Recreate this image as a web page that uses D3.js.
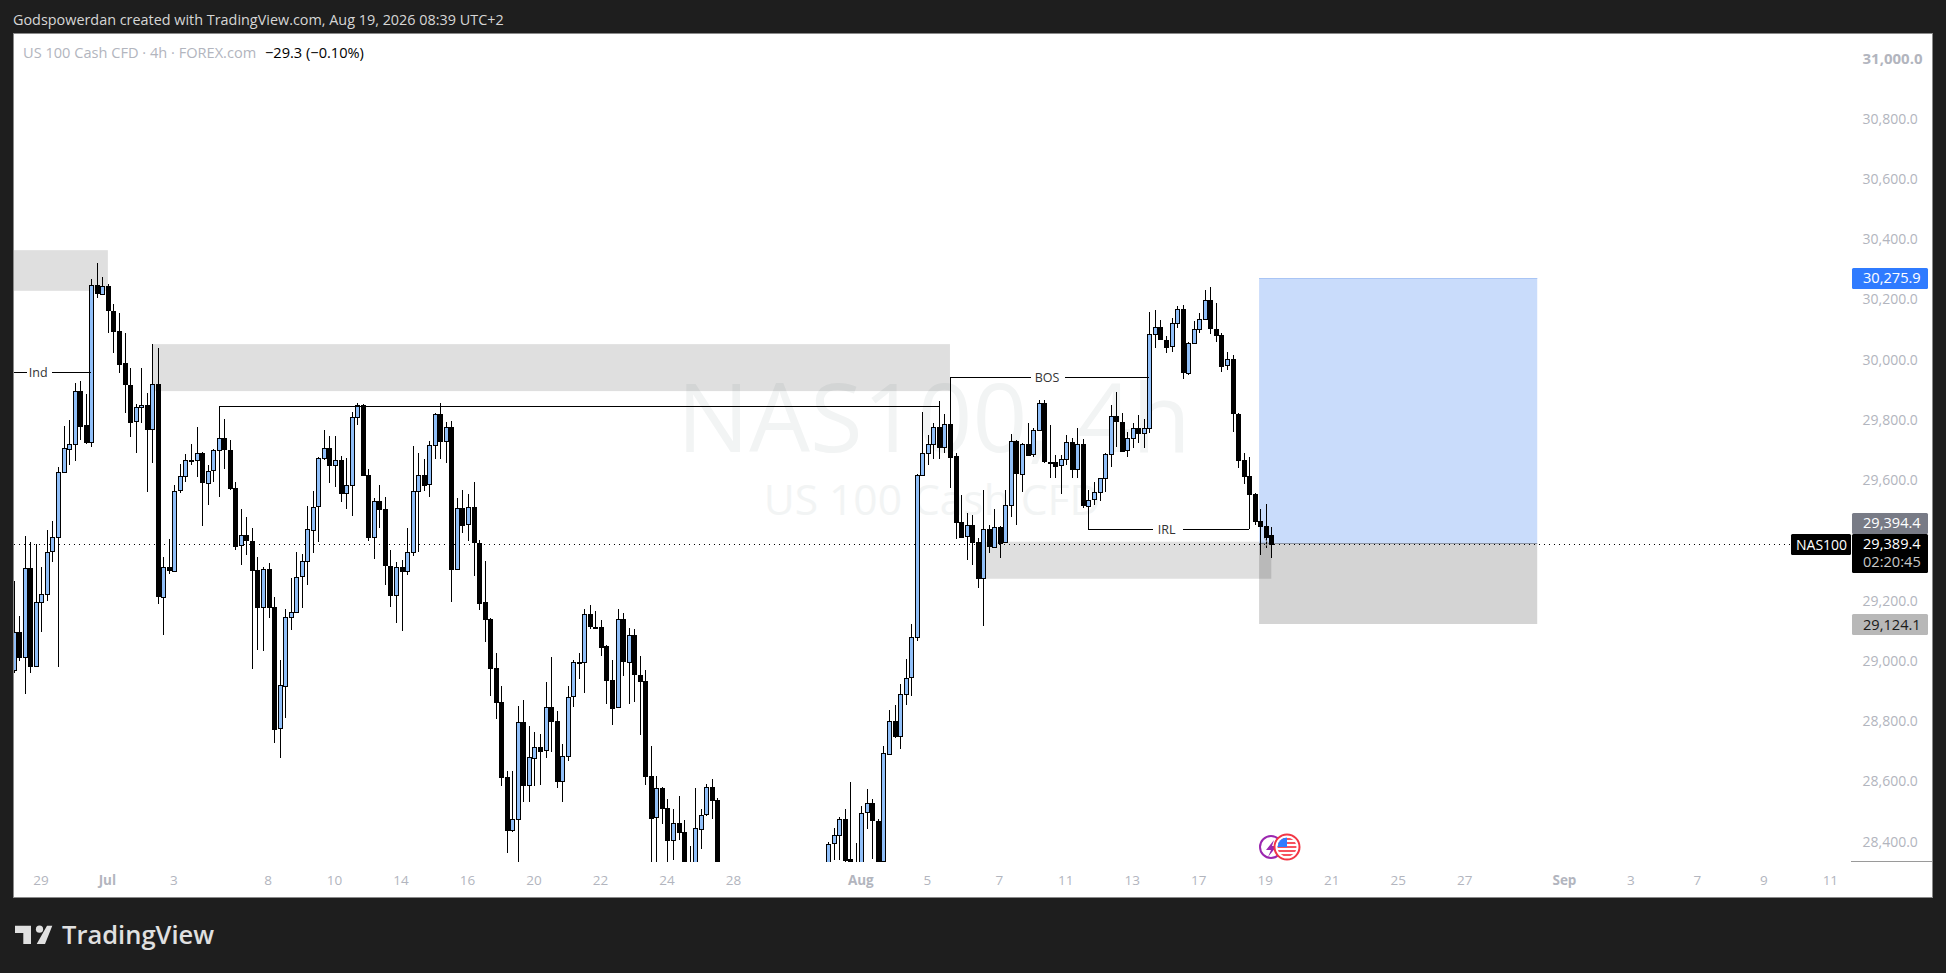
<!DOCTYPE html>
<html><head><meta charset="utf-8">
<script src="https://cdn.jsdelivr.net/npm/d3@7/dist/d3.min.js"></script>
<style>
html,body{margin:0;padding:0;background:#1e1e1e;overflow:hidden}
svg{display:block}
text{font-family:"Open Sans","Noto Sans",sans-serif}
</style></head><body>
<svg id="c" width="1946" height="973"></svg>
<script>
const opens=[28974,29099,29016,29312,28987,29199,29226,29365,29412,29628,
29708,29724,29900,29784,29728,30249,30221,30246,30165,30099,
29990,29919,29796,29844,29851,29770,29920,29215,29313,29302,
29568,29615,29668,29668,29691,29594,29634,29701,29741,29704,
29577,29385,29419,29401,29305,29182,29309,29182,28777,28921,
29149,29165,29282,29333,29439,29514,29675,29708,29650,29668,
29557,29585,29811,29851,29620,29414,29532,29505,29318,29222,
29315,29303,29365,29568,29621,29587,29718,29821,29733,29778,
29308,29509,29454,29512,29395,29197,29142,28979,28866,28617,
28441,28476,28798,28588,28682,28717,28704,28848,28803,28604,
28687,28884,28999,28999,29157,29116,29116,29051,28940,28848,
29140,28999,29087,28956,28936,28621,28482,28579,28514,28409,
28465,28435,28335,28328,28446,28492,28582,28540,28300,28396,
28423,28476,28343,28300,28320,28498,28529,28471,28338,28695,
28804,28754,28894,28947,29080,29618,29691,29721,29778,29711,
29788,29682,29464,29414,29452,29396,29275,29439,29381,29448,
29395,29519,29731,29624,29724,29687,29768,29857,29664,29664,
29650,29671,29728,29638,29721,29517,29538,29562,29608,29688,
29814,29796,29700,29741,29774,29757,29774,30086,30110,30069,
30045,30123,30169,29959,30057,30103,30136,30199,30105,30085,
29983,30003,29823,29670,29617,29557,29468,29451,29418.7];
const closes=[29099,29016,29312,28987,29199,29226,29365,29412,29628,29708,
29724,29900,29784,29727,30249,30221,30246,30165,30099,29990,
29919,29796,29844,29851,29770,29920,29215,29313,29302,29568,
29615,29668,29667,29691,29594,29634,29701,29741,29704,29577,
29385,29419,29401,29305,29182,29309,29182,28777,28921,29149,
29165,29282,29333,29439,29514,29675,29708,29650,29668,29557,
29585,29811,29851,29620,29414,29532,29505,29318,29222,29315,
29303,29365,29568,29621,29587,29718,29821,29733,29778,29308,
29509,29454,29512,29395,29195,29142,28979,28866,28617,28441,
28476,28798,28588,28682,28717,28704,28848,28803,28604,28687,
28884,28997,28995,29157,29116,29115,29049,28938,28847,29140,
28999,29087,28956,28936,28621,28482,28579,28514,28409,28465,
28435,28334,28328,28446,28492,28582,28538,28290,28396,28423,
28476,28341,28300,28320,28498,28529,28471,28338,28695,28804,
28754,28894,28947,29080,29618,29691,29721,29778,29711,29788,
29680,29464,29414,29452,29396,29275,29439,29381,29448,29395,
29519,29731,29624,29724,29687,29768,29857,29664,29663,29650,
29671,29728,29638,29721,29517,29538,29562,29608,29688,29814,
29796,29700,29741,29774,29757,29774,30086,30110,30069,30045,
30123,30169,29959,30057,30103,30136,30199,30105,30085,29982,
30003,29823,29670,29617,29557,29468,29451,29414,29389.4];
const highs=[29268,29151,29417,29398,29390,29313,29437,29466,29645,29782,
29802,29926,29931,29888,30269,30323,30278,30254,30187,30159,
30092,29975,29855,29975,29893,30054,30041,29346,29407,29585,
29656,29689,29722,29779,29695,29652,29705,29847,29807,29735,
29595,29505,29479,29445,29346,29315,29326,29213,29005,29173,
29279,29364,29357,29516,29566,29680,29769,29750,29749,29682,
29675,29827,29859,29855,29639,29542,29586,29547,29372,29329,
29337,29445,29716,29691,29672,29733,29825,29859,29795,29799,
29542,29569,29558,29597,29405,29334,29146,29030,28919,28636,
28636,28852,28872,28786,28767,28761,28931,29015,28835,28725,
28919,29005,29030,29176,29188,29168,29138,29054,29005,29173,
29160,29113,29107,29017,28972,28719,28620,28582,28545,28509,
28553,28474,28387,28579,28509,28595,28610,28547,28400,28446,
28485,28512,28599,28398,28520,28576,28545,28479,28719,28839,
28855,28925,29008,29124,29622,29827,29752,29791,29865,29822,
29944,29691,29553,29494,29486,29409,29569,29453,29505,29450,
29569,29755,29735,29727,29791,29774,29868,29870,29785,29686,
29686,29752,29741,29774,29738,29569,29597,29610,29692,29852,
29894,29824,29761,29791,29819,29804,30161,30167,30134,30081,
30142,30181,30184,30060,30131,30158,30234,30244,30189,30090,
30028,30017,29826,29691,29679,29560,29505,29523,29448];
const lows=[28961,29003,28891,28963,28985,29099,29202,29331,28983,29625,
29652,29667,29735,29722,29713,30208,30217,30092,30026,29959,
29826,29747,29693,29793,29564,29660,29191,29089,29290,29300,
29561,29597,29652,29614,29451,29520,29597,29547,29640,29569,
29370,29321,29354,28976,29038,29036,29145,28730,28681,28813,
29105,29163,29179,29255,29359,29398,29669,29594,29581,29531,
29507,29483,29785,29618,29401,29339,29444,29255,29182,29127,
29102,29287,29351,29365,29567,29547,29672,29673,29658,29199,
29304,29428,29401,29285,29171,29066,28885,28809,28586,28365,
28435,28319,28534,28534,28586,28590,28681,28700,28581,28534,
28671,28850,28941,28896,29108,29112,29019,28859,28789,28846,
28952,28859,28865,28757,28590,28300,28310,28462,28330,28340,
28407,28325,28320,28320,28377,28487,28479,28270,28280,28340,
28340,28330,28280,28290,28310,28443,28345,28335,28332,28690,
28745,28709,28855,28885,29069,29616,29652,29672,29672,29691,
29577,29407,29412,29337,29320,29245,29119,29359,29378,29345,
29393,29481,29453,29564,29685,29680,29766,29660,29608,29610,
29557,29652,29608,29608,29509,29439,29520,29534,29564,29647,
29713,29698,29680,29708,29727,29710,29760,30042,30067,30026,
30029,30109,29937,29951,30055,30092,30134,30086,30061,29962,
29968,29763,29644,29590,29439,29453,29354,29376,29345];
const firstHiddenBar=128, hiddenSlots=19;      // bars below the pane (price under the visible range)
const priceTicks=[31000,30800,30600,30400,30200,30000,29800,29600,29200,29000,28800,28600,28400];
const timeSlots=[5,17,29,46,58,70,82,94,106,118,130,153,165,178,190,202,214,226,238,250,262,280,292,304,316,328];
const timeLabels=["29","Jul","3","8","10","14","16","20","22","24","28","Aug","5","7","11","13","17","19","21","25","27","Sep","3","7","9","11"];
const boldLabels=["Jul","Aug","Sep"];
const lastPrice=29389.4, entry=29394.4, target=30275.9, stop=29124.1;
const zoneStart=[-5,25,175], zoneEnd=[17,169,227], zoneTop=[30366,30054,29398], zoneBottom=[30231,29898,29275];
const boxStart=224.8, boxEnd=275;
const lineLabels=["Ind","BOS","IRL"], lineStart=[-5,169,194], lineEnd=[14,205,223], linePrice=[29960,29944,29439], lineMid=[4.6,186.7,208.3], lineGap=[12.5,17,15];
const swingStart=37, swingEnd=167, swingPrice=29847;

const svg=d3.select("#c");
const UP="#90bff9";
const x=d3.scaleLinear().domain([0,227]).range([13.7,1271.3]);
const y=d3.scaleLinear().domain([28400,31000]).range([842.3,59.2]);
const slot=i=>i<firstHiddenBar?i:i+hiddenSlots;
const bars=opens.map((o,i)=>({s:slot(i),o,c:closes[i],h:highs[i],l:lows[i]}));

// pane
svg.append("rect").attr("x",13.5).attr("y",33.5).attr("width",1919).attr("height",864).attr("fill","#fff").attr("stroke","#8a8a8a");
const defs=svg.append("defs");
defs.append("clipPath").attr("id","pane").append("rect").attr("x",14).attr("y",34).attr("width",1838).attr("height",828);
const pane=svg.append("g").attr("clip-path","url(#pane)");

// watermark
pane.append("text").attr("x",934).attr("y",452).attr("text-anchor","middle").attr("font-size",96).attr("fill","#f2f4f4").text("NAS100, 4h");
pane.append("text").attr("x",932).attr("y",515).attr("text-anchor","middle").attr("font-size",42.5).attr("fill","#f2f4f4").text("US 100 Cash CFD");

// position box
const boxTop=Math.ceil(y(target)), boxMid=Math.round(y(entry)), boxBot=Math.round(y(stop));
pane.append("rect").attr("x",x(boxStart)).attr("width",x(boxEnd)-x(boxStart)).attr("y",boxTop).attr("height",boxMid-boxTop).attr("fill","#c9dcfb");
pane.append("rect").attr("x",x(boxStart)).attr("width",x(boxEnd)-x(boxStart)).attr("y",boxMid).attr("height",boxBot-boxMid).attr("fill","#d4d4d4");
pane.append("line").attr("x1",x(boxStart)).attr("x2",x(boxEnd)).attr("y1",boxMid+.5).attr("y2",boxMid+.5).attr("stroke","#8a93a3");
pane.append("line").attr("x1",x(boxStart)).attr("x2",x(boxEnd)).attr("y1",boxTop+.5).attr("y2",boxTop+.5).attr("stroke","#a9c5f5");

// zones
pane.selectAll("rect.zone").data(zoneStart).join("rect").attr("class","zone")
 .attr("x",(d)=>x(d)).attr("width",(d,i)=>x(zoneEnd[i])-x(d))
 .attr("y",(d,i)=>y(zoneTop[i])).attr("height",(d,i)=>y(zoneBottom[i])-y(zoneTop[i]))
 .attr("fill","rgba(0,0,0,0.125)");

// last price line
pane.append("line").attr("x1",14).attr("x2",1791).attr("y1",Math.round(y(lastPrice))+.5).attr("y2",Math.round(y(lastPrice))+.5)
 .attr("stroke","#000").attr("stroke-dasharray","1 4").attr("shape-rendering","crispEdges");

// candles
const px=d=>Math.round(x(d));
const cg=pane.append("g").attr("shape-rendering","crispEdges");
cg.selectAll("rect.wick").data(bars).join("rect").attr("class","wick")
 .attr("x",d=>px(d.s)).attr("width",1)
 .attr("y",d=>y(d.h)).attr("height",d=>Math.max(1,y(d.l)-y(d.h))).attr("fill","#000");
cg.selectAll("rect.body").data(bars).join("rect").attr("class","body")
 .attr("x",d=>px(d.s)-1.5).attr("width",4)
 .attr("y",d=>Math.round(y(Math.max(d.o,d.c)))+.5)
 .attr("height",d=>Math.max(1,Math.round(Math.abs(y(d.o)-y(d.c)))))
 .attr("fill",d=>d.c>=d.o?UP:"#000").attr("stroke","#000");

// annotations
const ag=pane.append("g").attr("shape-rendering","crispEdges");
ag.append("line").attr("x1",x(swingStart)).attr("x2",x(swingEnd)).attr("y1",y(swingPrice)).attr("y2",y(swingPrice)).attr("stroke","#000");
lineLabels.forEach((t,i)=>{
  const yy=Math.round(y(linePrice[i]))+.5, m=x(lineMid[i]);
  ag.append("line").attr("x1",x(lineStart[i])).attr("x2",m-lineGap[i]).attr("y1",yy).attr("y2",yy).attr("stroke","#000");
  ag.append("line").attr("x1",m+lineGap[i]).attr("x2",x(lineEnd[i])).attr("y1",yy).attr("y2",yy).attr("stroke","#000");
  pane.append("text").attr("x",m-1).attr("y",yy+4.5).attr("text-anchor","middle").attr("font-size",12.5).attr("fill","#333").text(t);
});

// small cursor mark on the last bars
pane.append("path").attr("d","M1263.5 548.5L1268 543M1264 538L1268 543").attr("fill","none").attr("stroke","#a8a8a8");

// icons
const ic=svg.append("g");
ic.append("circle").attr("cx",1271).attr("cy",847).attr("r",11).attr("fill","#fff").attr("stroke","#9b27af").attr("stroke-width",2);
ic.append("path").attr("d","M1274 840L1266 850H1271L1268 857L1277 846H1272Z").attr("fill","#9b27af");
ic.append("circle").attr("cx",1287).attr("cy",847).attr("r",12.5).attr("fill","#fff").attr("stroke","#f23645").attr("stroke-width",2);
defs.append("clipPath").attr("id","flag").append("circle").attr("cx",1287).attr("cy",847).attr("r",9.5);
const fl=ic.append("g").attr("clip-path","url(#flag)");
[838,842,846,850,854].forEach(v=>fl.append("rect").attr("x",1276).attr("y",v).attr("width",22).attr("height",2).attr("fill","#f7525f"));
fl.append("rect").attr("x",1276).attr("y",837).attr("width",11).attr("height",10).attr("fill","#2f7bff");

// axes
const pa=svg.append("g").attr("transform","translate(1862.5,-0.7)").call(d3.axisRight(y).tickValues(priceTicks).tickSize(0).tickPadding(0).tickFormat(d3.format(",.1f")));
pa.select(".domain").remove();
pa.selectAll("text").attr("font-size",d=>d===31000?15:14).attr("font-family",'"Open Sans"').attr("fill","#b2b5be")
  .attr("font-weight",d=>d===31000?700:400).attr("x",0);
const ta=svg.append("g").attr("transform","translate(-1,875.5)").call(d3.axisBottom(x).tickValues(timeSlots).tickSize(0).tickPadding(0).tickFormat((d,i)=>timeLabels[i]));
ta.select(".domain").remove();
ta.selectAll("text").attr("font-size",13.5).attr("font-family",'"Open Sans"').attr("fill","#b2b5be")
  .attr("font-weight",(d,i)=>boldLabels.includes(timeLabels[i])?700:400);
svg.append("line").attr("x1",1851).attr("x2",1932).attr("y1",861.5).attr("y2",861.5).attr("stroke","#9a9a9a");

// price labels
const fmt=d3.format(",.1f");
function lab(x0,w,y0,h,bg,fg,t,tx,ty,fs){
  svg.append("rect").attr("x",x0).attr("y",y0).attr("width",w).attr("height",h).attr("rx",1.5).attr("fill",bg);
  svg.append("text").attr("x",tx).attr("y",ty).attr("font-size",fs||14.6).attr("fill",fg).text(t);
}
lab(1852,76,268,21,"#2f7bff","#fff",fmt(target),1863,283);
lab(1852,76,513,21,"#787b86","#fff",fmt(entry),1863,528);
lab(1852,76,534,39,"#000","#fff",fmt(lastPrice),1863,549);
svg.append("text").attr("x",1863).attr("y",567).attr("font-size",14.6).attr("fill","#c8c8c8").text("02:20:45");
lab(1791,60,534,21,"#000","#fff","NAS100",1796,549.5,14);
lab(1852,76,614,21,"#b8b8b8","#1a1a1a",fmt(stop),1863,629.5);

// header & legend
svg.append("text").attr("x",13).attr("y",24.5).attr("font-size",14.4).attr("fill","#d6d6d6").text("Godspowerdan created with TradingView.com, Aug 19, 2026 08:39 UTC+2");
svg.append("text").attr("x",23).attr("y",58).attr("font-size",14.6).attr("fill","#b2b5be").text("US 100 Cash CFD · 4h · FOREX.com");
svg.append("text").attr("x",265).attr("y",58).attr("font-size",14.6).attr("fill","#000").text("−29.3 (−0.10%)");

// logo
svg.append("path").attr("d","M15 925.7H31V944H23.3V933H15Z M47 925.7H52.3L45 944H36.7Z").attr("fill","#e0e0e0");
svg.append("circle").attr("cx",39.5).attr("cy",929.2).attr("r",3.6).attr("fill","#e0e0e0");
svg.append("text").attr("x",62).attr("y",944).attr("font-family","Inter").attr("font-weight",600).attr("font-size",25.5).attr("fill","#e0e0e0").text("TradingView");
</script></body></html>
